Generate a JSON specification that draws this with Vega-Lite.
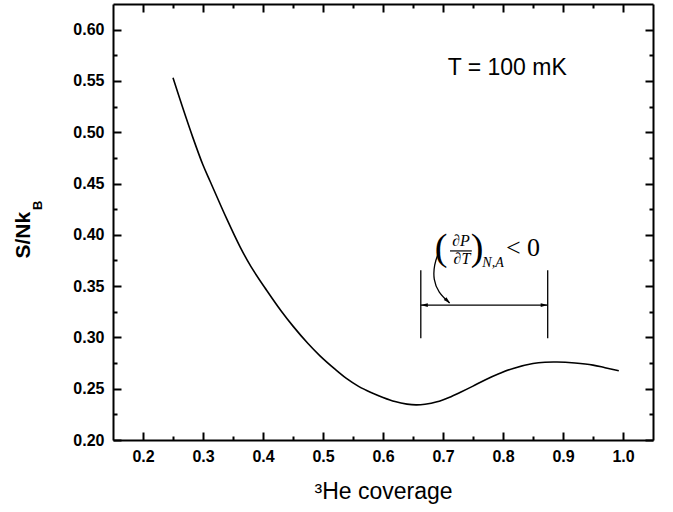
{
  "$schema": "https://vega.github.io/schema/vega-lite/v6.json",
  "width": 540,
  "height": 436,
  "autosize": "none",
  "padding": {"left": 113, "top": 4, "right": 20, "bottom": 72},
  "background": "white",
  "config": {
    "view": {"stroke": null},
    "font": "Liberation Sans",
    "axis": {
      "grid": false,
      "domainColor": "black",
      "domainWidth": 2,
      "tickColor": "black",
      "tickWidth": 2,
      "labelColor": "black",
      "labelFont": "Liberation Sans",
      "labelFontWeight": "bold",
      "labelFontSize": 16,
      "labelFlush": false,
      "titleColor": "black"
    }
  },
  "datasets": {
    "curve": [
      {"x": 0.25, "y": 0.553}, {"x": 0.265, "y": 0.526}, {"x": 0.283, "y": 0.495},
      {"x": 0.3, "y": 0.468}, {"x": 0.312, "y": 0.452}, {"x": 0.34, "y": 0.415},
      {"x": 0.362, "y": 0.388}, {"x": 0.38, "y": 0.369}, {"x": 0.406, "y": 0.346},
      {"x": 0.43, "y": 0.326}, {"x": 0.45, "y": 0.311}, {"x": 0.475, "y": 0.294},
      {"x": 0.495, "y": 0.282}, {"x": 0.52, "y": 0.269}, {"x": 0.539, "y": 0.26},
      {"x": 0.56, "y": 0.252}, {"x": 0.58, "y": 0.2463}, {"x": 0.6, "y": 0.2415},
      {"x": 0.62, "y": 0.2375}, {"x": 0.64, "y": 0.235}, {"x": 0.655, "y": 0.2342},
      {"x": 0.67, "y": 0.2348}, {"x": 0.69, "y": 0.2372}, {"x": 0.71, "y": 0.2415},
      {"x": 0.73, "y": 0.2468}, {"x": 0.75, "y": 0.2525}, {"x": 0.77, "y": 0.2585},
      {"x": 0.795, "y": 0.265}, {"x": 0.817, "y": 0.2698}, {"x": 0.85, "y": 0.2745},
      {"x": 0.87, "y": 0.2758}, {"x": 0.89, "y": 0.276}, {"x": 0.92, "y": 0.275},
      {"x": 0.95, "y": 0.273}, {"x": 0.97, "y": 0.2705}, {"x": 0.993, "y": 0.2675}
    ],
    "vlines": [
      {"x": 0.663, "y": 0.2993, "y2": 0.3655},
      {"x": 0.8745, "y": 0.2993, "y2": 0.3655}
    ],
    "hline": [{"x": 0.663, "x2": 0.8745, "y": 0.3315}],
    "heads": [
      {"x": 0.663, "y": 0.3315, "end": "left"},
      {"x": 0.8745, "y": 0.3315, "end": "right"}
    ],
    "bend": [
      {"x": 0.693, "y": 0.383, "o": 1}, {"x": 0.685, "y": 0.371, "o": 2},
      {"x": 0.684, "y": 0.356, "o": 3}, {"x": 0.692, "y": 0.344, "o": 4},
      {"x": 0.711, "y": 0.3335, "o": 5}
    ],
    "bendhead": [{"x": 0.712, "y": 0.3332}],
    "label": [{"x": 0.807, "y": 0.563, "text": "T = 100 mK"}],
    "parens": [
      {"x": 0.697, "y": 0.386, "text": "("},
      {"x": 0.7567, "y": 0.386, "text": ")"}
    ],
    "frac": [
      {"x": 0.730, "y": 0.3938, "text": "∂P"},
      {"x": 0.7317, "y": 0.3762, "text": "∂T"}
    ],
    "fracline": [{"x": 0.7117, "x2": 0.748, "y": 0.3843}],
    "sub": [{"x": 0.7833, "y": 0.3723, "text": "N,A"}],
    "ineq": [{"x": 0.8333, "y": 0.387, "text": "< 0"}],
    "ytitle": [{"x": 0.0017, "y": 0.3996, "text": "S/Nk"}],
    "ysub": [{"x": 0.025, "y": 0.4288, "text": "B"}]
  },
  "resolve": {"axis": {"x": "independent", "y": "independent"}},
  "layer": [
    {
      "data": {"name": "curve"},
      "mark": {"type": "line", "color": "black", "strokeWidth": 1.6, "interpolate": "catmull-rom"},
      "encoding": {
        "x": {"field": "x", "type": "quantitative",
          "scale": {"domain": [0.15, 1.05], "nice": false, "zero": false},
          "axis": {"orient": "bottom", "values": [0.2, 0.3, 0.4, 0.5, 0.6, 0.7, 0.8, 0.9, 1.0],
            "format": ".1f", "tickSize": -8, "labelPadding": 16,
            "title": "³He coverage", "titleFont": "Liberation Sans", "titleFontSize": 23,
            "titleFontWeight": "normal", "titlePadding": 16}},
        "y": {"field": "y", "type": "quantitative",
          "scale": {"domain": [0.2, 0.625], "nice": false, "zero": false},
          "axis": {"orient": "left", "values": [0.2, 0.25, 0.3, 0.35, 0.4, 0.45, 0.5, 0.55, 0.6],
            "format": ".2f", "tickSize": -8, "labelPadding": 17, "title": null}}
      }
    },
    {
      "data": {"name": "hline"},
      "mark": {"type": "rule", "color": "black", "strokeWidth": 1.3},
      "encoding": {
        "x": {"field": "x", "type": "quantitative",
          "scale": {"domain": [0.15, 1.05], "nice": false, "zero": false},
          "axis": {"orient": "bottom", "values": [0.25, 0.35, 0.45, 0.55, 0.65, 0.75, 0.85, 0.95],
            "tickSize": -4, "labels": false, "domain": false, "title": null}},
        "x2": {"field": "x2"},
        "y": {"field": "y", "type": "quantitative",
          "scale": {"domain": [0.2, 0.625], "nice": false, "zero": false},
          "axis": {"orient": "left", "values": [0.225, 0.275, 0.325, 0.375, 0.425, 0.475, 0.525, 0.575],
            "tickSize": -4, "labels": false, "domain": false, "title": null}}
      }
    },
    {
      "data": {"name": "vlines"},
      "mark": {"type": "rule", "color": "black", "strokeWidth": 1.3},
      "encoding": {
        "x": {"field": "x", "type": "quantitative",
          "scale": {"domain": [0.15, 1.05], "nice": false, "zero": false},
          "axis": {"orient": "top", "values": [0.2, 0.3, 0.4, 0.5, 0.6, 0.7, 0.8, 0.9, 1.0],
            "tickSize": -8, "labels": false, "title": null}},
        "y": {"field": "y", "type": "quantitative",
          "scale": {"domain": [0.2, 0.625], "nice": false, "zero": false},
          "axis": {"orient": "right", "values": [0.2, 0.25, 0.3, 0.35, 0.4, 0.45, 0.5, 0.55, 0.6],
            "tickSize": -8, "labels": false, "title": null}},
        "y2": {"field": "y2"}
      }
    },
    {
      "data": {"name": "bend"},
      "mark": {"type": "line", "color": "black", "strokeWidth": 1.3, "interpolate": "basis"},
      "encoding": {
        "x": {"field": "x", "type": "quantitative",
          "scale": {"domain": [0.15, 1.05], "nice": false, "zero": false},
          "axis": {"orient": "top", "values": [0.25, 0.35, 0.45, 0.55, 0.65, 0.75, 0.85, 0.95],
            "tickSize": -4, "labels": false, "domain": false, "title": null}},
        "y": {"field": "y", "type": "quantitative",
          "scale": {"domain": [0.2, 0.625], "nice": false, "zero": false},
          "axis": {"orient": "right", "values": [0.225, 0.275, 0.325, 0.375, 0.425, 0.475, 0.525, 0.575],
            "tickSize": -4, "labels": false, "domain": false, "title": null}},
        "order": {"field": "o", "type": "quantitative"}
      }
    },
    {
      "data": {"name": "heads"},
      "mark": {"type": "point", "filled": true, "color": "black", "opacity": 1, "size": 49},
      "encoding": {
        "x": {"field": "x", "type": "quantitative", "scale": {"domain": [0.15, 1.05], "nice": false, "zero": false}, "axis": null},
        "y": {"field": "y", "type": "quantitative", "scale": {"domain": [0.2, 0.625], "nice": false, "zero": false}, "axis": null},
        "shape": {"field": "end", "type": "nominal", "legend": null,
          "scale": {"domain": ["left", "right"], "range": ["M0,0L2,-0.55L2,0.55Z", "M0,0L-2,-0.55L-2,0.55Z"]}}
      }
    },
    {
      "data": {"name": "bendhead"},
      "mark": {"type": "point", "filled": true, "color": "black", "opacity": 1, "size": 49, "shape": "M0,0L2,-0.55L2,0.55Z", "angle": 223},
      "encoding": {
        "x": {"field": "x", "type": "quantitative", "scale": {"domain": [0.15, 1.05], "nice": false, "zero": false}, "axis": null},
        "y": {"field": "y", "type": "quantitative", "scale": {"domain": [0.2, 0.625], "nice": false, "zero": false}, "axis": null}
      }
    },
    {
      "data": {"name": "fracline"},
      "mark": {"type": "rule", "color": "black", "strokeWidth": 1.2},
      "encoding": {
        "x": {"field": "x", "type": "quantitative", "scale": {"domain": [0.15, 1.05], "nice": false, "zero": false}, "axis": null},
        "x2": {"field": "x2"},
        "y": {"field": "y", "type": "quantitative", "scale": {"domain": [0.2, 0.625], "nice": false, "zero": false}, "axis": null}
      }
    },
    {
      "data": {"name": "label"},
      "mark": {"type": "text", "font": "Liberation Sans", "fontSize": 23, "color": "black", "align": "center", "baseline": "middle"},
      "encoding": {
        "x": {"field": "x", "type": "quantitative", "scale": {"domain": [0.15, 1.05], "nice": false, "zero": false}, "axis": null},
        "y": {"field": "y", "type": "quantitative", "scale": {"domain": [0.2, 0.625], "nice": false, "zero": false}, "axis": null},
        "text": {"field": "text"}
      }
    },
    {
      "data": {"name": "parens"},
      "mark": {"type": "text", "font": "Liberation Serif", "fontSize": 38, "color": "black", "align": "center", "baseline": "middle"},
      "encoding": {
        "x": {"field": "x", "type": "quantitative", "scale": {"domain": [0.15, 1.05], "nice": false, "zero": false}, "axis": null},
        "y": {"field": "y", "type": "quantitative", "scale": {"domain": [0.2, 0.625], "nice": false, "zero": false}, "axis": null},
        "text": {"field": "text"}
      }
    },
    {
      "data": {"name": "frac"},
      "mark": {"type": "text", "font": "Liberation Serif", "fontStyle": "italic", "fontSize": 16, "color": "black", "align": "center", "baseline": "middle"},
      "encoding": {
        "x": {"field": "x", "type": "quantitative", "scale": {"domain": [0.15, 1.05], "nice": false, "zero": false}, "axis": null},
        "y": {"field": "y", "type": "quantitative", "scale": {"domain": [0.2, 0.625], "nice": false, "zero": false}, "axis": null},
        "text": {"field": "text"}
      }
    },
    {
      "data": {"name": "sub"},
      "mark": {"type": "text", "font": "Liberation Serif", "fontStyle": "italic", "fontSize": 14, "color": "black", "align": "center", "baseline": "middle"},
      "encoding": {
        "x": {"field": "x", "type": "quantitative", "scale": {"domain": [0.15, 1.05], "nice": false, "zero": false}, "axis": null},
        "y": {"field": "y", "type": "quantitative", "scale": {"domain": [0.2, 0.625], "nice": false, "zero": false}, "axis": null},
        "text": {"field": "text"}
      }
    },
    {
      "data": {"name": "ineq"},
      "mark": {"type": "text", "font": "Liberation Serif", "fontSize": 26, "color": "black", "align": "center", "baseline": "middle"},
      "encoding": {
        "x": {"field": "x", "type": "quantitative", "scale": {"domain": [0.15, 1.05], "nice": false, "zero": false}, "axis": null},
        "y": {"field": "y", "type": "quantitative", "scale": {"domain": [0.2, 0.625], "nice": false, "zero": false}, "axis": null},
        "text": {"field": "text"}
      }
    },
    {
      "data": {"name": "ytitle"},
      "mark": {"type": "text", "font": "Liberation Sans", "fontWeight": "bold", "fontSize": 21, "color": "black", "align": "center", "baseline": "middle", "angle": 270},
      "encoding": {
        "x": {"field": "x", "type": "quantitative", "scale": {"domain": [0.15, 1.05], "nice": false, "zero": false}, "axis": null},
        "y": {"field": "y", "type": "quantitative", "scale": {"domain": [0.2, 0.625], "nice": false, "zero": false}, "axis": null},
        "text": {"field": "text"}
      }
    },
    {
      "data": {"name": "ysub"},
      "mark": {"type": "text", "font": "Liberation Sans", "fontWeight": "bold", "fontSize": 13, "color": "black", "align": "center", "baseline": "middle", "angle": 270},
      "encoding": {
        "x": {"field": "x", "type": "quantitative", "scale": {"domain": [0.15, 1.05], "nice": false, "zero": false}, "axis": null},
        "y": {"field": "y", "type": "quantitative", "scale": {"domain": [0.2, 0.625], "nice": false, "zero": false}, "axis": null},
        "text": {"field": "text"}
      }
    }
  ]
}
